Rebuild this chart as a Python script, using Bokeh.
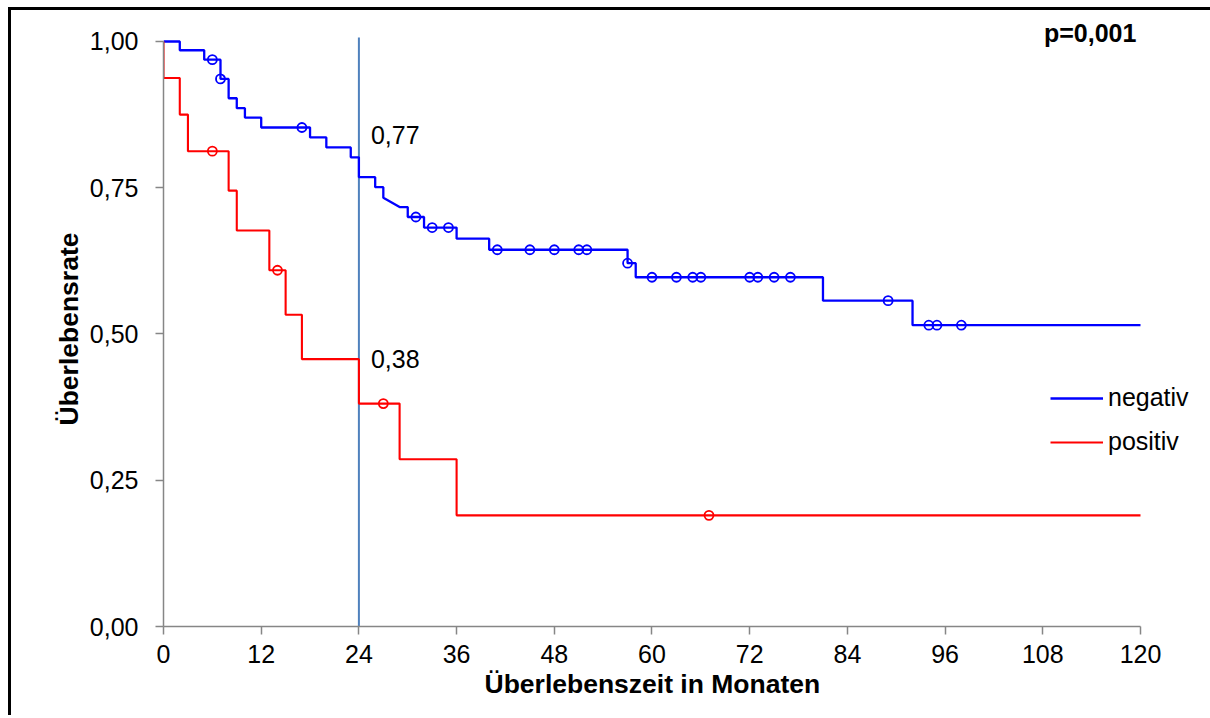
from bokeh.plotting import figure
from bokeh.models import Range1d, FixedTicker, Legend, LegendItem, Title
from bokeh.core.properties import value
from bokeh.embed import file_html
from bokeh.resources import INLINE

# ---- data ----
# Kaplan-Meier curve vertices (months, survival)
neg_t = [0, 2, 2, 5, 5, 7, 7, 8, 8, 9, 9, 10, 10, 12, 12, 18, 18, 20, 20, 23, 23, 24, 24,
         26, 26, 27, 27, 29, 30, 30, 32, 32, 36, 36, 40, 40, 57, 57, 58, 58, 81, 81, 92, 92, 120]
neg_s = [1.0, 1.0, 0.985, 0.985, 0.969, 0.969, 0.936, 0.936, 0.903, 0.903, 0.886, 0.886, 0.870,
         0.870, 0.853, 0.853, 0.836, 0.836, 0.819, 0.819, 0.802, 0.802, 0.768,
         0.768, 0.751, 0.751, 0.733, 0.717, 0.717, 0.700, 0.700, 0.682, 0.682, 0.663, 0.663, 0.644,
         0.644, 0.621, 0.621, 0.597, 0.597, 0.557, 0.557, 0.515, 0.515]
neg_cens_t = [6, 7, 17, 31, 33, 35, 41, 45, 48, 51, 52, 57, 60, 63, 65, 66, 72, 73, 75, 77, 89, 94, 95, 98]
neg_cens_s = [0.969, 0.936, 0.853, 0.700, 0.682, 0.682, 0.644, 0.644, 0.644, 0.644, 0.644, 0.621,
              0.597, 0.597, 0.597, 0.597, 0.597, 0.597, 0.597, 0.597, 0.557, 0.515, 0.515, 0.515]

pos_t = [0, 0, 2, 2, 3, 3, 8, 8, 9, 9, 13, 13, 15, 15, 17, 17, 24, 24, 29, 29, 36, 36, 120]
pos_s = [1.0, 0.9375, 0.9375, 0.875, 0.875, 0.8125, 0.8125, 0.745, 0.745, 0.677, 0.677, 0.609,
         0.609, 0.533, 0.533, 0.457, 0.457, 0.381, 0.381, 0.286, 0.286, 0.190, 0.190]
pos_cens_t = [6, 14, 27, 67]
pos_cens_s = [0.8125, 0.609, 0.381, 0.190]

series_names = ["negativ", "positiv"]

marker_month = 24
marker_top = 1.007
annot_text = ["0,77", "0,38"]
annot_y = [0.84, 0.458]
p_text = "p=0,001"
x_title = "Überlebenszeit in Monaten"
y_title = "Überlebensrate"

x_ticks = [0, 12, 24, 36, 48, 60, 72, 84, 96, 108, 120]
y_ticks = [0, 0.25, 0.5, 0.75, 1]
y_tick_labels = ["0,00", "0,25", "0,50", "0,75", "1,00"]

FONT = "Liberation Sans"
BLUE = "#0000FF"
RED = "#FF0000"
AXIS = "#868686"

p = figure(width=1215, height=708, output_backend="svg", toolbar_location=None,
           x_range=Range1d(0, 130.563), y_range=Range1d(0, 1.05299),
           min_border_left=152, min_border_right=0, min_border_top=0, min_border_bottom=92)
# chart-area frame: black edge on the top and left only
p.styles = {"position": "absolute", "left": "11px", "top": "10px",
            "box-shadow": "-3px -3px 0px 0px #000000"}
p.outline_line_color = None
p.grid.visible = False
p.background_fill_color = "white"
p.border_fill_color = "white"

p.xaxis.bounds = (0, 120)
p.yaxis.bounds = (0, 1)
p.xaxis.ticker = FixedTicker(ticks=x_ticks)
p.yaxis.ticker = FixedTicker(ticks=y_ticks)
p.yaxis.major_label_overrides = {t: l for t, l in zip(y_ticks, y_tick_labels)}
for ax in (p.xaxis, p.yaxis):
    ax.axis_line_color = AXIS
    ax.axis_line_width = 1.5
    ax.major_tick_line_color = AXIS
    ax.major_tick_line_width = 1.5
    ax.major_tick_out = 8
    ax.major_tick_in = 0
    ax.minor_tick_line_color = None
    ax.major_label_text_font = FONT
    ax.major_label_text_font_size = "25px"
    ax.major_label_text_color = "#000000"
p.xaxis.major_label_standoff = 10
p.yaxis.major_label_standoff = 17

p.add_layout(Title(text=x_title, align="left", offset=321, standoff=2,
                   text_font=FONT, text_font_size="26.5px", text_font_style="bold",
                   text_color="#000000"), "below")
p.add_layout(Title(text=y_title, align="left", offset=201, standoff=6,
                   text_font=FONT, text_font_size="26.5px", text_font_style="bold",
                   text_color="#000000"), "left")

# vertical reference line at 24 months
p.segment(x0=[marker_month], y0=[0], x1=[marker_month], y1=[marker_top],
          line_color="#4F81BD", line_width=2)

neg_line = p.line(neg_t, neg_s, line_color=BLUE, line_width=2.3)
pos_line = p.line(pos_t, pos_s, line_color=RED, line_width=2.1)
p.scatter(neg_cens_t, neg_cens_s, marker="circle", size=9, fill_color=None,
          line_color=BLUE, line_width=1.8)
p.scatter(pos_cens_t, pos_cens_s, marker="circle", size=9, fill_color=None,
          line_color=RED, line_width=1.8)

p.text(x=[marker_month] * 2, y=annot_y, text=annot_text, x_offset=12,
       text_baseline="middle", text_align="left",
       text_font=value(FONT), text_font_size="25px", text_color="#000000")
p.text(x=[119.5], y=[1.0137], text=[p_text], text_baseline="middle", text_align="right",
       text_font=value(FONT), text_font_size="25px", text_font_style="bold",
       text_color="#000000")

legend = Legend(items=[LegendItem(label=series_names[0], renderers=[neg_line]),
                       LegendItem(label=series_names[1], renderers=[pos_line])],
                location=(887, 170), glyph_width=53, glyph_height=20, label_standoff=5,
                label_text_font=FONT, label_text_font_size="25px", label_text_color="#000000",
                padding=0, margin=0, spacing=15, border_line_color=None,
                background_fill_alpha=0)
p.add_layout(legend)

open("out.html", "w").write(file_html(p, INLINE))
